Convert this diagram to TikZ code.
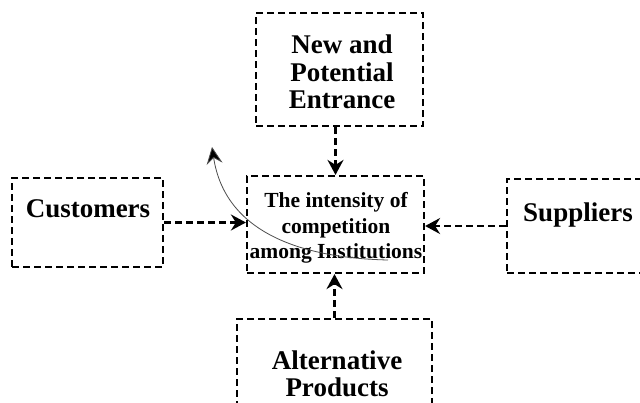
\documentclass[tikz,border=0pt]{standalone}
\usepackage{fontspec}
\setmainfont{Liberation Serif}
\usetikzlibrary{arrows.meta}
\tikzset{
  dbox/.style={draw=black, line width=2.2pt, dash pattern=on 7pt off 4pt, minimum width=#1, inner sep=0pt},
  big/.style={font=\bfseries\fontsize{27}{27.5}\selectfont, align=center, inner sep=0pt},
  mid/.style={font=\bfseries\fontsize{21.5}{25.5}\selectfont, align=center, inner sep=0pt},
  darr/.style={line width=2.2pt, dash pattern=on 7pt off 4pt, -{Stealth[length=15pt,width=16pt,inset=5pt]}},
  carr/.style={draw=black!70, line width=0.8pt, -{Stealth[length=17pt,width=16pt,inset=6pt,fill=black]}}
}
\begin{document}
\begin{tikzpicture}[x=1pt,y=-1pt]
\useasboundingbox (0,0) rectangle (640,402);
\clip (0,0) rectangle (640,402);
% boxes
\node[dbox=167pt, minimum height=113pt] (top) at (339.5,69.5) {};
\node[dbox=177pt, minimum height=97pt] (ctr) at (335.5,224.5) {};
\node[dbox=151pt, minimum height=89pt] (cust) at (87.5,222.5) {};
\node[dbox=180pt, minimum height=94pt] (supp) at (597,226) {};
\node[dbox=195pt, minimum height=122pt] (alt) at (334.5,380) {};
% texts
\node[big] (toptxt) at (342,72) {New and\\Potential\\Entrance};
\node[mid] (ctrtxt) at (336,228) {The intensity of\\competition\\among Institutions};
\node[big] (custtxt) at (88,209) {Customers};
\node[big] (supptxt) at (578,215) {Suppliers};
\node[big] (alttxt) at (337,374) {Alternative\\Products};
% arrows
\draw[darr] (ctr.north |- top.south) -- (ctr.north);
\draw[darr] (cust.east) -- (cust.east -| ctr.west);
\draw[darr] (supp.west) -- (supp.west -| ctr.east);
\draw[darr] (alt.north) -- (alt.north |- ctr.south);
% curved arrow
\coordinate (cs) at (388,260);
\coordinate (ce) at (212,147);
\draw[carr] (cs) .. controls (300,258) and (225,232) .. (ce);
\end{tikzpicture}
\end{document}
